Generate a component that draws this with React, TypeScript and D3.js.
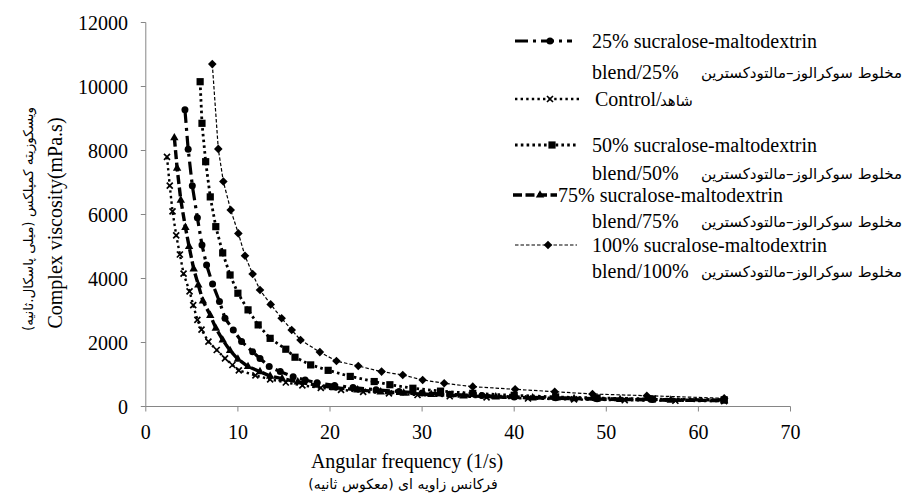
import React from 'react';
import * as d3 from 'd3';

// ---- Data ----
const controlX = [2.3, 2.6, 2.9, 3.3, 3.7, 4.1, 4.75, 5.15, 5.6, 6.05, 6.8, 7.7, 8.6, 9.4, 10.1, 11.9, 13.5, 15.2, 17.0, 19.0, 21.2, 23.6, 26.4, 29.5, 33.0, 37.0, 41.5, 46.5, 52.0, 57.5, 62.8];
const controlY = [7800, 6900, 6100, 5350, 4750, 4150, 3600, 3170, 2710, 2400, 2025, 1766, 1506, 1297, 1130, 970, 850, 750, 660, 580, 520, 460, 410, 360, 320, 285, 250, 220, 195, 180, 165];

const s25X = [4.25, 4.6, 5.05, 5.6, 6.1, 6.6, 7.25, 8.0, 8.6, 9.5, 10.4, 11.6, 12.4, 13.4, 14.6, 16.0, 17.3, 18.6, 20.5, 22.5, 25.0, 27.5, 30.0, 33.0, 36.5, 40.0, 44.5, 49.0, 55.0, 62.8];
const s25Y = [9270, 8040, 6900, 5900, 5050, 4420, 3830, 3280, 2760, 2390, 2030, 1710, 1500, 1250, 1090, 930, 830, 740, 660, 590, 520, 470, 420, 380, 340, 300, 270, 245, 220, 200];

const s50X = [5.9, 6.1, 6.5, 7.0, 7.6, 8.35, 9.15, 10.0, 11.1, 12.2, 13.5, 15.2, 16.2, 17.9, 19.8, 22.2, 24.8, 26.5, 29.0, 32.0, 35.5, 40.0, 44.5, 49.0, 55.0, 62.8];
const s50Y = [10150, 8850, 7650, 6550, 5620, 4800, 4110, 3540, 3020, 2550, 2130, 1790, 1540, 1300, 1130, 940, 780, 680, 570, 480, 410, 350, 300, 265, 235, 210];

const s75X = [3.1, 3.4, 3.8, 4.3, 4.7, 5.2, 5.7, 6.2, 7.0, 7.6, 8.35, 9.15, 10.0, 11.1, 12.4, 13.5, 14.8, 16.5, 18.5, 20.5, 23.0, 25.5, 28.0, 31.0, 34.5, 38.0, 42.0, 46.5, 51.5, 57.0, 62.8];
const s75Y = [8400, 7450, 6450, 5600, 5000, 4300, 3800, 3300, 2850, 2450, 2080, 1750, 1480, 1250, 1090, 950, 870, 770, 670, 590, 520, 460, 420, 375, 335, 300, 270, 245, 220, 200, 185];

const s100X = [7.22, 7.87, 8.42, 9.22, 10.05, 10.77, 11.6, 12.4, 13.56, 14.75, 15.84, 16.8, 18.9, 20.7, 23.07, 25.6, 27.9, 30.06, 32.4, 35.5, 40.1, 44.4, 48.5, 54.4, 62.8];
const s100Y = [10700, 8050, 7030, 6140, 5410, 4710, 4140, 3640, 3190, 2760, 2390, 2080, 1700, 1420, 1265, 1090, 985, 830, 725, 620, 537, 463, 390, 338, 256];

const xTicks = [0, 10, 20, 30, 40, 50, 60, 70];
const yTicks = [0, 2000, 4000, 6000, 8000, 10000, 12000];

const persianBlend = 'مخلوط سوکرالوز–مالتودکسترین';
const legendLine1 = ['25% sucralose-maltodextrin', '50% sucralose-maltodextrin', '75% sucralose-maltodextrin', '100% sucralose-maltodextrin'];
const legendLine2 = ['blend/25%', 'blend/50%', 'blend/75%', 'blend/100%'];
const controlLabel = 'Control/';
const controlLabelFa = 'شاهد';
const xTitle = 'Angular frequency (1/s)';
const xTitleFa = 'فرکانس زاویه ای (معکوس ثانیه)';
const yTitle = 'Complex  viscosity(mPa.s)';
const yTitleFa = 'ویسکوزیته کمپلکس (میلی پاسکال.ثانیه)';

const SERIF = "'Liberation Serif', 'Times New Roman', 'DejaVu Sans', serif";
const FA = "'DejaVu Sans', sans-serif";

type Marker = 'circle' | 'square' | 'triangle' | 'diamond' | 'times';

function markerPath(m: Marker): string {
  switch (m) {
    case 'circle': {
      const r = 3.5;
      return `M${-r},0A${r},${r} 0 1,0 ${r},0A${r},${r} 0 1,0 ${-r},0Z`;
    }
    case 'square':
      return 'M-3.6,-3.6H3.6V3.6H-3.6Z';
    case 'triangle':
      return 'M0,-4.8L4.2,2.6L-4.2,2.6Z';
    case 'diamond':
      return 'M0,-4.3L4.3,0L0,4.3L-4.3,0Z';
    case 'times':
      return 'M-3,-3L3,3M3,-3L-3,3';
  }
}

function MarkerShape({ m, cx, cy }: { m: Marker; cx: number; cy: number }) {
  const d = markerPath(m);
  if (m === 'times') {
    return <path d={d} transform={`translate(${cx},${cy})`} fill="none" stroke="#000" strokeWidth={1.7} />;
  }
  return <path d={d} transform={`translate(${cx},${cy})`} fill="#000" />;
}

export default function App() {
  const W = 914;
  const H = 495;
  const x = d3.scaleLinear().domain([0, 70]).range([145.8, 790.5]);
  const y = d3.scaleLinear().domain([0, 12000]).range([406.5, 22.5]);

  const series = [
    { key: 'control', xs: controlX, ys: controlY, dash: '2.4 3.2', width: 2.4, marker: 'times' as Marker },
    { key: 's75', xs: s75X, ys: s75Y, dash: '9 3.5', width: 3.4, marker: 'triangle' as Marker },
    { key: 's25', xs: s25X, ys: s25Y, dash: '13 5 3 5', width: 3.2, marker: 'circle' as Marker },
    { key: 's50', xs: s50X, ys: s50Y, dash: '2.6 3.2', width: 2.8, marker: 'square' as Marker },
    { key: 's100', xs: s100X, ys: s100Y, dash: '3.5 2', width: 1.2, marker: 'diamond' as Marker },
  ];

  const line = d3
    .line<[number, number]>()
    .x((d) => x(d[0]))
    .y((d) => y(d[1]));

  const axisColor = '#868686';
  const x0 = x(0);
  const y0 = y(0);

  const legend = [
    { y: 41, x1: 515, x2: 572, mx: 550, dash: '13 5 3 5', width: 3.2, marker: 'circle' as Marker, tx: 592, text: legendLine1[0] },
    { y: 145, x1: 515, x2: 577, mx: 552, dash: '2.6 3.2', width: 2.8, marker: 'square' as Marker, tx: 592, text: legendLine1[1] },
    { y: 195, x1: 513, x2: 557, mx: 540, dash: '9 3.5', width: 3.4, marker: 'triangle' as Marker, tx: 558, text: legendLine1[2] },
    { y: 245, x1: 515, x2: 577, mx: 548, dash: '3.5 2', width: 1.2, marker: 'diamond' as Marker, tx: 592, text: legendLine1[3] },
  ];
  const blendRows = [
    { y: 72, text: legendLine2[0] },
    { y: 173, text: legendLine2[1] },
    { y: 221, text: legendLine2[2] },
    { y: 271, text: legendLine2[3] },
  ];

  return (
    <svg
      width={W}
      height={H}
      viewBox={`0 0 ${W} ${H}`}
      style={{ position: 'absolute', left: 0, top: 0, background: '#fff' }}
    >
      <rect x={0} y={0} width={W} height={H} fill="#fff" />
      {/* axes */}
      <line x1={x0} y1={y(12000)} x2={x0} y2={y0} stroke={axisColor} strokeWidth={1} />
      <line x1={x0} y1={y0} x2={x(70)} y2={y0} stroke={axisColor} strokeWidth={1} />
      {yTicks.map((t) => (
        <g key={`yt${t}`}>
          <line x1={x0 - 5} x2={x0} y1={y(t)} y2={y(t)} stroke={axisColor} strokeWidth={1} />
          <text x={128} y={y(t) + 7} textAnchor="end" fontFamily={SERIF} fontSize={20} fill="#000">
            {t}
          </text>
        </g>
      ))}
      {xTicks.map((t) => (
        <g key={`xt${t}`}>
          <line x1={x(t)} x2={x(t)} y1={y0} y2={y0 + 5} stroke={axisColor} strokeWidth={1} />
          <text x={x(t)} y={439} textAnchor="middle" fontFamily={SERIF} fontSize={20} fill="#000">
            {t}
          </text>
        </g>
      ))}

      {/* series */}
      {series.map((s) => {
        const pts: [number, number][] = s.xs.map((v, i) => [v, s.ys[i]]);
        return (
          <g key={s.key}>
            <path d={line(pts) || ''} fill="none" stroke="#000" strokeWidth={s.width} strokeDasharray={s.dash} />
            {pts.map((p, i) => (
              <MarkerShape key={i} m={s.marker} cx={x(p[0])} cy={y(p[1])} />
            ))}
          </g>
        );
      })}

      {/* axis titles */}
      <text x={407} y={468} textAnchor="middle" fontFamily={SERIF} fontSize={20} fill="#000">
        {xTitle}
      </text>
      <text x={403} y={489} textAnchor="middle" fontFamily={FA} fontSize={14} fill="#000">
        {xTitleFa}
      </text>
      <text transform="translate(62,223) rotate(-90)" textAnchor="middle" fontFamily={SERIF} fontSize={20} fill="#000">
        {yTitle}
      </text>
      <text transform="translate(33,219) rotate(-90)" textAnchor="middle" fontFamily={FA} fontSize={13.5} fill="#000">
        {yTitleFa}
      </text>

      {/* legend */}
      {legend.map((l, i) => (
        <g key={`lg${i}`}>
          <line x1={l.x1} x2={l.x2} y1={l.y} y2={l.y} stroke="#000" strokeWidth={l.width} strokeDasharray={l.dash} />
          <MarkerShape m={l.marker} cx={l.mx} cy={l.y} />
          <text x={l.tx} y={l.y + 7} fontFamily={SERIF} fontSize={20} fill="#000">
            {l.text}
          </text>
        </g>
      ))}
      {/* control legend entry */}
      <g>
        <line x1={515} x2={580} y1={99} y2={99} stroke="#000" strokeWidth={2.4} strokeDasharray="2.4 3.2" />
        <MarkerShape m="times" cx={550} cy={99} />
        <text x={595} y={106} fontFamily={SERIF} fontSize={20} fill="#000">
          {controlLabel}
        </text>
        <text x={660} y={106} fontFamily={FA} fontSize={15} fill="#000">
          {controlLabelFa}
        </text>
      </g>
      {blendRows.map((r, i) => (
        <g key={`br${i}`}>
          <text x={592} y={r.y + 7} fontFamily={SERIF} fontSize={20} fill="#000">
            {r.text}
          </text>
          <text x={902} y={r.y + 6} textAnchor="end" fontFamily={FA} fontSize={15} fill="#000">
            {persianBlend}
          </text>
        </g>
      ))}
    </svg>
  );
}
